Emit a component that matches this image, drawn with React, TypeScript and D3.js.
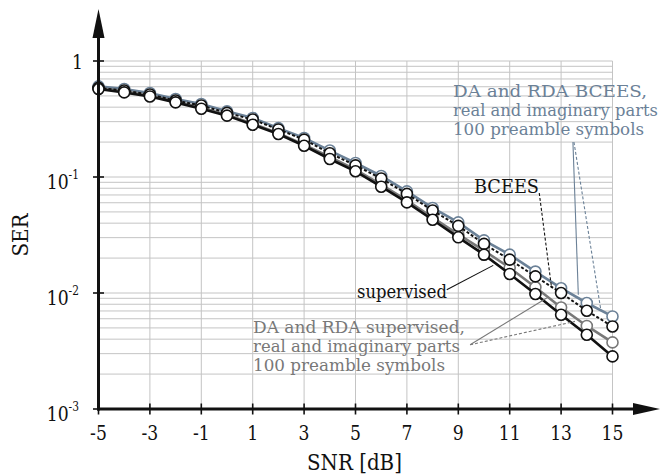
import React, { useLayoutEffect, useRef, useState } from 'react';
import * as d3 from 'd3';

// SNR in dB
const snr = [-5, -4, -3, -2, -1, 0, 1, 2, 3, 4, 5, 6, 7, 8, 9, 10, 11, 12, 13, 14, 15];

// SER per curve
const serDaBcees = [0.604, 0.574, 0.53, 0.47, 0.426, 0.368, 0.323, 0.264, 0.217, 0.169, 0.132, 0.102, 0.0752, 0.0541, 0.0406, 0.0284, 0.0214, 0.0153, 0.011, 0.0082, 0.00628];
const serBcees = [0.586, 0.557, 0.514, 0.456, 0.413, 0.357, 0.313, 0.257, 0.21, 0.16, 0.126, 0.097, 0.0715, 0.0514, 0.0379, 0.0265, 0.0194, 0.0139, 0.01, 0.00703, 0.00515];
const serDaSup = [0.585, 0.547, 0.505, 0.449, 0.396, 0.344, 0.288, 0.239, 0.19, 0.149, 0.116, 0.0859, 0.0628, 0.0446, 0.032, 0.0232, 0.0165, 0.0112, 0.0075, 0.0052, 0.00375];
const serSup = [0.574, 0.536, 0.495, 0.44, 0.388, 0.338, 0.282, 0.235, 0.186, 0.143, 0.112, 0.0825, 0.0604, 0.0428, 0.0302, 0.0214, 0.0146, 0.0098, 0.0065, 0.00437, 0.00284];

const xTicks = [-5, -3, -1, 1, 3, 5, 7, 9, 11, 13, 15];
const yDecades = [1e-3, 1e-2, 1e-1, 1];
const yTickLabels = ['-3', '-2', '-1', ''];

const slate = '#6b8197';
const grey = '#787878';

const series = [
  { values: serDaBcees, color: slate, dash: null },
  { values: serDaSup, color: grey, dash: null },
  { values: serBcees, color: '#111', dash: '3,2' },
  { values: serSup, color: '#111', dash: null },
];

// leader lines, both ends in data units [snr, ser]
const leaders = [
  { from: [13.46, 0.2], to: [13.67, 0.00966], color: slate, dash: null },
  { from: [13.5, 0.2], to: [14.54, 0.00728], color: slate, dash: '3,2' },
  { from: [12.15, 0.0728], to: [12.63, 0.01104], color: '#111', dash: '3,2' },
  { from: [8.55, 0.01068], to: [10.36, 0.0173], color: '#111', dash: null },
  { from: [9.46, 0.00358], to: [12.44, 0.00906], color: grey, dash: null },
  { from: [9.46, 0.00358], to: [13.54, 0.00569], color: grey, dash: '3,2' },
];

const slateNote = ['DA and RDA BCEES,', 'real and imaginary parts', '100 preamble symbols'];
const slateNoteWidths = [194, 205, 191];
const greyNote = ['DA and RDA supervised,', 'real and imaginary parts', '100 preamble symbols'];
const greyNoteWidths = [212, 207, 192];

const FONT = "'DejaVu Serif', 'Liberation Serif', serif";

// squeeze a text horizontally so it spans `width` px (DejaVu Serif is wider than Times)
function FitText(props: any) {
  const { x, y, width, children, ...rest } = props;
  const ref = useRef<SVGTextElement>(null);
  const [k, setK] = useState(1);
  useLayoutEffect(() => {
    if (ref.current) {
      const w = ref.current.getComputedTextLength();
      if (w > 0) setK(width / w);
    }
  }, [width, children]);
  return (
    <text ref={ref} transform={`translate(${x},${y}) scale(${k},1)`} {...rest}>
      {children}
    </text>
  );
}

export default function App() {
  const width = 661;
  const height = 474;
  const x = d3.scaleLinear().domain([-5, 15]).range([98.5, 612.5]);
  const y = d3.scaleLog().domain([1e-3, 1]).range([409, 61]);

  const minor: number[] = [];
  [1e-3, 1e-2, 1e-1].forEach((d) => {
    for (let k = 1; k <= 9; k++) minor.push(d * k);
  });
  minor.push(1);

  const line = d3
    .line<number>()
    .x((_, i) => x(snr[i]))
    .y((d) => y(d));

  const x0 = x(-5);
  const yBase = y(1e-3);
  const squeeze = 0.82;

  return (
    <div style={{ position: 'absolute', left: 0, top: 0 }}>
      <svg width={width} height={height} style={{ display: 'block', fontFamily: FONT }}>
        {/* grid */}
        <g stroke="#c4c4c4" strokeWidth={1}>
          {minor.map((d, i) => (
            <line key={'h' + i} x1={x0} x2={x(15)} y1={y(d)} y2={y(d)} />
          ))}
          {xTicks.slice(1).map((d) => (
            <line key={'v' + d} x1={x(d)} x2={x(d)} y1={y(1)} y2={yBase} />
          ))}
        </g>

        {/* curves */}
        {series.map((s, si) => (
          <g key={si}>
            <path
              d={line(s.values) || ''}
              fill="none"
              stroke={s.color}
              strokeWidth={s.dash ? 2 : 2.6}
              strokeDasharray={s.dash || undefined}
            />
            {s.values.map((v, i) => (
              <circle key={i} cx={x(snr[i])} cy={y(v)} r={5.5} fill="#fff" stroke={s.color} strokeWidth={1.6} />
            ))}
          </g>
        ))}

        {/* leaders */}
        {leaders.map((l, i) => (
          <line
            key={i}
            x1={x(l.from[0])}
            y1={y(l.from[1])}
            x2={x(l.to[0])}
            y2={y(l.to[1])}
            stroke={l.color}
            strokeWidth={1.1}
            strokeDasharray={l.dash || undefined}
          />
        ))}

        {/* axes */}
        <g stroke="#111" fill="none">
          <line x1={x0} x2={x0} y1={yBase + 1.5} y2={30} strokeWidth={3} />
          <line x1={x0 - 1.5} x2={636} y1={yBase} y2={yBase} strokeWidth={3} />
          {xTicks.map((d) => (
            <line key={d} x1={x(d)} x2={x(d)} y1={yBase - 5.5} y2={yBase + 5.5} strokeWidth={1.6} />
          ))}
          {yDecades.map((d) => (
            <line key={d} x1={x0 - 5.5} x2={x0 + 5.5} y1={y(d)} y2={y(d)} strokeWidth={1.6} />
          ))}
        </g>
        <path d={`M${x0},9 L${x0 - 6},38 L${x0 + 6},38 Z`} fill="#111" />
        <path d={`M660,${yBase} L633,${yBase - 6} L633,${yBase + 6} Z`} fill="#111" />

        {/* tick labels */}
        <g fontSize={21} fill="#111" fontFamily={FONT}>
          {xTicks.map((d) => (
            <text key={d} transform={`translate(${x(d)},${yBase + 31}) scale(${squeeze},1)`} textAnchor="middle">
              {d}
            </text>
          ))}
          {yDecades.map((d, i) =>
            d === 1 ? (
              <text key={d} transform={`translate(83,${y(d) + 8}) scale(${squeeze},1)`} textAnchor="end">
                1
              </text>
            ) : (
              <text key={d} transform={`translate(79,${y(d) + 12}) scale(${squeeze},1)`} textAnchor="end">
                10
                <tspan fontSize={13} dy={-10}>
                  {yTickLabels[i]}
                </tspan>
              </text>
            )
          )}
        </g>

        {/* axis titles */}
        <FitText x={307} y={470} width={95} fontSize={22} fill="#111" fontFamily={FONT}>
          SNR [dB]
        </FitText>
        <g transform="translate(28,256.5) rotate(-90)">
          <FitText x={0} y={0} width={43} fontSize={23} fill="#111" fontFamily={FONT}>
            SER
          </FitText>
        </g>

        {/* annotations */}
        <g fontSize={16.2} fontFamily={FONT}>
          {slateNote.map((t, i) => (
            <FitText key={i} x={453} y={97 + i * 19} width={slateNoteWidths[i]} fill={slate}>
              {t}
            </FitText>
          ))}
          {greyNote.map((t, i) => (
            <FitText key={i} x={253} y={333 + i * 19} width={greyNoteWidths[i]} fill={grey}>
              {t}
            </FitText>
          ))}
        </g>
        <g fontSize={19} fontFamily={FONT}>
          <FitText x={474} y={193} width={65} fill="#111">
            BCEES
          </FitText>
          <FitText x={357} y={298} width={90} fill="#111">
            supervised
          </FitText>
        </g>
      </svg>
    </div>
  );
}
